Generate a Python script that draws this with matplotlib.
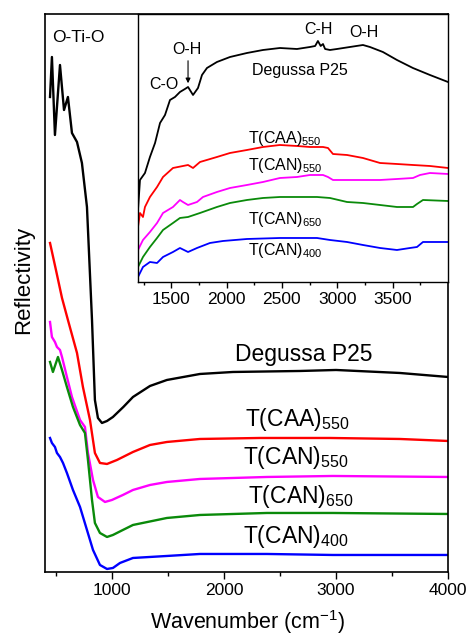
import matplotlib
matplotlib.use("Agg")
import matplotlib.pyplot as plt
from matplotlib.ticker import FixedLocator, NullLocator

plt.rcParams['font.family'] = ['Liberation Sans', 'DejaVu Sans']
plt.rcParams['mathtext.fontset'] = 'custom'
plt.rcParams['mathtext.rm'] = 'Liberation Sans'

# full range spectra (wavenumber in cm-1, reflectivity in arb. units, offset)
p25_wn = [445, 462, 489, 534, 570, 605, 641, 686, 730, 775, 820, 846, 873, 909, 954,
          1007, 1100, 1186, 1338, 1489, 1784, 2079, 2677, 3000, 3570, 4000]
p25_r = [475, 515, 437, 507, 462, 475, 439, 430, 409, 365, 252, 172, 154, 149, 151,
         155, 165, 175, 186, 192, 198, 200, 201, 202, 199, 195]
caa550_wn = [445, 498, 552, 605, 686, 739, 802, 846, 891, 954, 1043, 1186, 1338, 1489,
             1784, 2320, 2945, 3570, 4000]
caa550_r = [329, 302, 274, 252, 219, 185, 152, 119, 109, 108, 112, 120, 127, 130,
            133, 134, 134, 133, 131]
can550_wn = [445, 462, 489, 507, 534, 552, 596, 641, 713, 757, 784, 829, 873, 936, 998,
             1096, 1186, 1338, 1489, 1784, 2382, 2971, 4000]
can550_r = [250, 235, 230, 225, 222, 215, 195, 175, 152, 145, 119, 92, 75, 70, 72,
            77, 82, 87, 90, 93, 95, 96, 95]
can650_wn = [445, 471, 516, 552, 596, 650, 713, 757, 784, 820, 846, 891, 954, 1007, 1096,
             1186, 1489, 1784, 2382, 2971, 4000]
can650_r = [210, 200, 215, 202, 185, 165, 147, 139, 112, 72, 49, 39, 35, 37, 42,
            47, 54, 57, 59, 59, 58]
can400_wn = [445, 462, 489, 507, 534, 561, 596, 650, 713, 775, 829, 891, 954, 1007, 1070,
             1186, 1489, 1784, 2382, 2971, 4000]
can400_r = [134, 129, 125, 119, 115, 109, 99, 82, 65, 42, 22, 7, 3, 4, 9,
            14, 16, 18, 18, 17, 17]

# zoomed 1200-4000 cm-1 region
p25_wn_i = [1200, 1218, 1263, 1308, 1354, 1399, 1444, 1489, 1534, 1579, 1624, 1652,
            1697, 1742, 1778, 1823, 1913, 2031, 2184, 2329, 2482, 2636, 2753, 2800,
            2825, 2850, 2871, 2890, 2934, 2997, 3114, 3232, 3295, 3412, 3539, 3683,
            3837, 4000]
p25_r_i = [72, 102, 109, 125, 139, 159, 167, 182, 185, 190, 193, 195,
           187, 194, 207, 214, 220, 225, 229, 232, 234, 233, 235, 236,
           241, 236, 238, 233, 232, 233, 235, 237, 235, 230, 222, 214,
           207, 200]
caa550_wn_i = [1200, 1218, 1245, 1263, 1308, 1372, 1426, 1516, 1652, 1697, 1760, 1913,
               2031, 2184, 2329, 2482, 2636, 2753, 2871, 2916, 2961, 3088, 3232, 3386,
               3539, 3684, 3837, 4000]
caa550_r_i = [55, 69, 65, 75, 85, 95, 105, 114, 117, 114, 120, 125,
              129, 132, 135, 137, 136, 135, 135, 134, 128, 127, 124, 119,
              118, 117, 116, 114]
can550_wn_i = [1200, 1245, 1308, 1372, 1426, 1516, 1579, 1606, 1652, 1733, 1787, 1913,
               2031, 2184, 2329, 2482, 2636, 2753, 2871, 2916, 2961, 3088, 3232, 3386,
               3539, 3684, 3747, 3837, 4000]
can550_r_i = [32, 42, 50, 59, 69, 75, 82, 80, 77, 80, 85, 90,
              94, 97, 100, 104, 105, 107, 107, 105, 102, 102, 102, 102,
              103, 104, 107, 109, 108]
can650_wn_i = [1200, 1245, 1308, 1372, 1426, 1516, 1579, 1652, 1760, 1913, 2031, 2184,
               2329, 2482, 2636, 2817, 2934, 3088, 3232, 3386, 3539, 3684, 3720, 3774,
               4000]
can650_r_i = [15, 25, 35, 44, 52, 59, 64, 65, 69, 75, 79, 82,
              84, 85, 85, 85, 84, 80, 79, 77, 75, 75, 78, 82,
              81]
can400_wn_i = [1200, 1245, 1308, 1372, 1426, 1516, 1579, 1652, 1733, 1850, 1968, 2184,
               2482, 2817, 2934, 3088, 3232, 3386, 3539, 3657, 3720, 3774, 4000]
can400_r_i = [5, 15, 20, 19, 25, 30, 34, 30, 34, 39, 41, 43,
              44, 44, 42, 40, 37, 34, 32, 34, 35, 40, 40]

samples = ['Degussa P25', 'T(CAA)$_{550}$', 'T(CAN)$_{550}$', 'T(CAN)$_{650}$', 'T(CAN)$_{400}$']
colors = ['black', '#ff0000', '#ff00ff', '#0a8a0a', '#0000ff']

fig = plt.figure(figsize=(4.70, 6.39), dpi=100)
ax = fig.add_axes([0.0957, 0.1049, 0.8575, 0.8732])

main_series = [(p25_wn, p25_r), (caa550_wn, caa550_r), (can550_wn, can550_r),
               (can650_wn, can650_r), (can400_wn, can400_r)]
for (wn, r), c in zip(main_series, colors):
    ax.plot(wn, r, color=c, lw=1.7, solid_joinstyle='round')

ax.set_xlim(400, 4000)
ax.set_ylim(0, 558)
ax.xaxis.set_major_locator(FixedLocator([1000, 2000, 3000, 4000]))
ax.xaxis.set_minor_locator(FixedLocator([500, 1500, 2500, 3500]))
ax.yaxis.set_major_locator(NullLocator())
ax.tick_params(axis='x', which='major', direction='out', length=5, width=1, labelsize=12.5, pad=3)
ax.tick_params(axis='x', which='minor', direction='out', length=3, width=1)
for s in ax.spines.values():
    s.set_linewidth(1.2)
ax.set_xlabel('Wavenumber (cm$^{-1}$)', fontsize=15.5)
ax.xaxis.set_label_coords(0.504, -0.064)
ax.set_ylabel('Reflectivity', fontsize=16)
ax.yaxis.set_label_coords(-0.028, 0.523)

# labels next to the plateaus
ax.text(695, 534, 'O-Ti-O', fontsize=12.5, ha='center', va='center')
main_label_pos = [(2096, 211), (2186, 146), (2168, 108), (2213, 69), (2168, 29)]
for (x, y), name in zip(main_label_pos, samples):
    ax.text(x, y, name, fontsize=16.5, ha='left', va='baseline')

# inset with the 1200-4000 cm-1 detail
axi = fig.add_axes([0.2936, 0.5587, 0.6596, 0.4194])
inset_series = [(p25_wn_i, p25_r_i), (caa550_wn_i, caa550_r_i), (can550_wn_i, can550_r_i),
                (can650_wn_i, can650_r_i), (can400_wn_i, can400_r_i)]
for (wn, r), c in zip(inset_series, colors):
    axi.plot(wn, r, color=c, lw=1.3, solid_joinstyle='round')

axi.set_xlim(1200, 4000)
axi.set_ylim(0, 268)
axi.xaxis.set_major_locator(FixedLocator([1500, 2000, 2500, 3000, 3500]))
axi.xaxis.set_minor_locator(FixedLocator([1250, 1750, 2250, 2750, 3250, 3750]))
axi.yaxis.set_major_locator(NullLocator())
axi.tick_params(axis='x', which='major', direction='out', length=4, width=1, labelsize=12.5, pad=3.5)
axi.tick_params(axis='x', which='minor', direction='out', length=2.5, width=1)
for s in axi.spines.values():
    s.set_linewidth(1.0)

axi.text(2826, 252, 'C-H', fontsize=11.5, ha='center', va='center')
axi.text(3241, 249, 'O-H', fontsize=11.5, ha='center', va='center')
axi.text(1643, 232, 'O-H', fontsize=11.5, ha='center', va='center')
axi.text(1435, 197, 'C-O', fontsize=11.5, ha='center', va='center')
axi.text(2663, 211, 'Degussa P25', fontsize=11.5, ha='center', va='center')
axi.annotate('', xy=(1652, 196), xytext=(1652, 224),
             arrowprops=dict(arrowstyle='-|>', color='black', lw=0.8, mutation_scale=7))

inset_label_pos = [(2193, 139), (2193, 112), (2193, 58), (2193, 27)]
for (x, y), name in zip(inset_label_pos, samples[1:]):
    axi.text(x, y, name, fontsize=11.5, ha='left', va='baseline')

fig.savefig('out.png', dpi=100)
